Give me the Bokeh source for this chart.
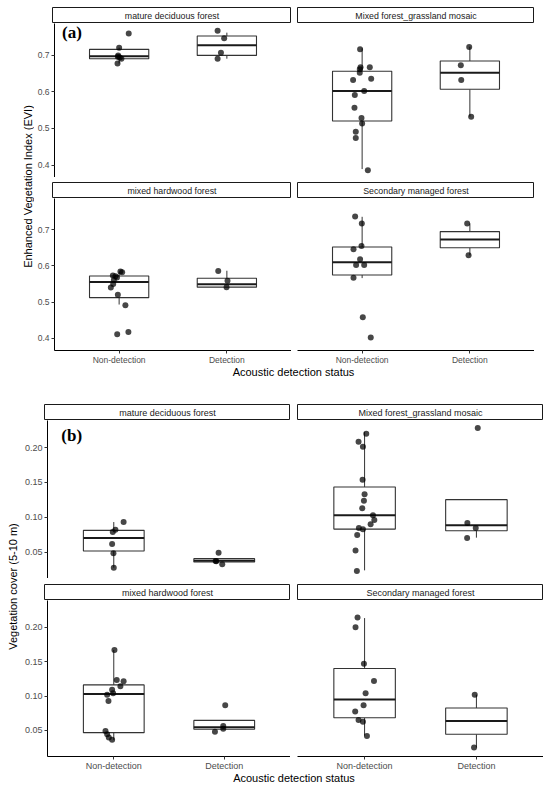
import math
from bokeh.plotting import figure
from bokeh.models import Range1d, FixedTicker, Label, NumeralTickFormatter
from bokeh.layouts import row, column
from bokeh.embed import file_html
from bokeh.resources import INLINE

# ---------------- data ----------------
facets = ["mature deciduous forest", "Mixed forest_grassland mosaic",
          "mixed hardwood forest", "Secondary managed forest"]
status = ["Non-detection", "Detection"]
status_pos = [1, 2]

evi_ticks = [0.4, 0.5, 0.6, 0.7]
cov_ticks = [0.05, 0.10, 0.15, 0.20]

# (a) Enhanced Vegetation Index: values and horizontal jitter (category units)
evi_md_nd = [0.759, 0.720, 0.699, 0.695, 0.693, 0.690, 0.677]
evi_md_nd_jit = [0.089, 0.000, -0.009, -0.012, 0.006, 0.021, -0.015]
evi_md_d = [0.766, 0.746, 0.706, 0.690]
evi_md_d_jit = [-0.086, -0.025, -0.055, -0.086]

evi_mg_nd = [0.716, 0.667, 0.667, 0.661, 0.652, 0.635, 0.632, 0.602, 0.591,
             0.556, 0.528, 0.513, 0.491, 0.474, 0.386]
evi_mg_nd_jit = [-0.019, -0.015, 0.071, -0.022, -0.022, 0.084, -0.084, 0.019,
                 -0.068, -0.071, -0.006, 0.000, -0.059, -0.059, 0.053]
evi_mg_d = [0.722, 0.672, 0.632, 0.532]
evi_mg_d_jit = [-0.006, -0.084, -0.080, 0.012]

evi_mh_nd = [0.584, 0.582, 0.573, 0.571, 0.568, 0.561, 0.550, 0.540, 0.520,
             0.491, 0.411, 0.417]
evi_mh_nd_jit = [0.012, 0.028, -0.058, -0.034, -0.020, -0.049, -0.055, -0.077,
                 -0.012, 0.058, -0.018, 0.086]
evi_mh_d = [0.586, 0.559, 0.541]
evi_mh_d_jit = [-0.080, 0.006, -0.003]

evi_sm_nd = [0.736, 0.717, 0.655, 0.646, 0.618, 0.602, 0.602, 0.567, 0.458, 0.402]
evi_sm_nd_jit = [-0.065, -0.003, -0.006, -0.080, -0.019, -0.056, 0.019, -0.080,
                 0.006, 0.080]
evi_sm_d = [0.717, 0.629]
evi_sm_d_jit = [-0.025, -0.012]

# box statistics, order: md_nd, md_d, mg_nd, mg_d, mh_nd, mh_d, sm_nd, sm_d
evi_lo = [0.677, 0.690, 0.389, 0.532, 0.493, 0.541, 0.566, 0.629]
evi_q1 = [0.690, 0.699, 0.520, 0.6065, 0.512, 0.541, 0.5747, 0.650]
evi_med = [0.697, 0.7264, 0.602, 0.652, 0.5556, 0.5493, 0.610, 0.6728]
evi_q3 = [0.7155, 0.7518, 0.6556, 0.6837, 0.572, 0.5656, 0.6518, 0.6946]
evi_hi = [0.720, 0.761, 0.718, 0.7227, 0.584, 0.5864, 0.7354, 0.717]

# (b) Vegetation cover (5-10 m)
cov_md_nd = [0.0931, 0.0822, 0.0788, 0.0615, 0.0481, 0.0276]
cov_md_nd_jit = [0.089, 0.015, -0.009, -0.015, -0.003, 0.000]
cov_md_d = [0.0490, 0.0371, 0.0368, 0.0323]
cov_md_d_jit = [-0.051, -0.078, -0.072, -0.018]

cov_mg_nd = [0.2200, 0.2086, 0.2014, 0.1540, 0.1330, 0.1238, 0.1128, 0.1027,
             0.0960, 0.0898, 0.0845, 0.0826, 0.0744, 0.0524, 0.0227]
cov_mg_nd_jit = [0.015, -0.054, -0.015, -0.018, 0.000, -0.006, -0.021, 0.075,
                 0.087, 0.054, -0.051, -0.015, -0.066, -0.081, -0.069]
cov_mg_d = [0.2282, 0.0917, 0.0845, 0.0701]
cov_mg_d_jit = [0.012, -0.081, -0.006, -0.083]

cov_mh_nd = [0.1670, 0.1234, 0.1214, 0.1142, 0.1090, 0.1042, 0.1018, 0.0927,
             0.0491, 0.0444, 0.0396, 0.0362]
cov_mh_nd_jit = [0.006, 0.027, 0.089, 0.060, -0.015, -0.006, -0.060, -0.048,
                 -0.075, -0.060, -0.045, -0.015]
cov_mh_d = [0.0865, 0.0563, 0.0525, 0.0481]
cov_mh_d_jit = [0.009, -0.009, -0.009, -0.084]

cov_sm_nd = [0.2144, 0.2000, 0.1468, 0.1220, 0.1042, 0.0865, 0.0774, 0.0650,
             0.0626, 0.0420]
cov_sm_nd_jit = [-0.063, -0.081, -0.006, 0.084, 0.009, -0.009, -0.084, -0.054,
                 -0.015, 0.021]
cov_sm_d = [0.1019, 0.0251]
cov_sm_d_jit = [-0.015, -0.021]

cov_lo = [0.0276, 0.0356, 0.0237, 0.0707, 0.0362, 0.0516, 0.0424, 0.0251]
cov_q1 = [0.0515, 0.0356, 0.0830, 0.0807, 0.0467, 0.0516, 0.0683, 0.0444]
cov_med = [0.0701, 0.0376, 0.1027, 0.0884, 0.1028, 0.0545, 0.0951, 0.0635]
cov_q3 = [0.0812, 0.0405, 0.1434, 0.1253, 0.1162, 0.0645, 0.1400, 0.0826]
cov_hi = [0.0931, 0.0405, 0.2224, 0.1253, 0.1670, 0.0645, 0.2134, 0.1019]

# ---------------- style ----------------
FONT = "Liberation Sans"
BOXC = "#333333"
BOX_W = 0.55


def base_fig(w, h, xr, yr, ml=0, mr=0, mt=0, mb=0, xloc=None, yloc=None):
    f = figure(width=w, height=h, x_range=xr, y_range=yr, output_backend="svg",
               toolbar_location=None, min_border_left=ml, min_border_right=mr,
               min_border_top=mt, min_border_bottom=mb,
               x_axis_location=xloc, y_axis_location=yloc)
    f.xgrid.grid_line_color = None
    f.ygrid.grid_line_color = None
    f.outline_line_color = None
    f.background_fill_color = "white"
    f.border_fill_color = "white"
    return f


def style_axis(ax, fs):
    ax.axis_line_color = "black"
    ax.axis_line_width = 1
    ax.major_tick_line_color = "#333333"
    ax.major_tick_out = 3
    ax.major_tick_in = 0
    ax.minor_tick_line_color = None
    ax.major_label_text_font = FONT
    ax.major_label_text_font_size = fs
    ax.major_label_text_color = "#4d4d4d"
    ax.major_label_standoff = 2


def make_panel(groups, stats, k, yr, fw, fh, ml, mb, show_y, show_x,
               yticks, yfmt, fs):
    f = base_fig(ml + fw, fh + mb, Range1d(0.4, 2.6), Range1d(*yr), ml=ml, mb=mb,
                 xloc="below" if show_x else None, yloc="left" if show_y else None)
    lo, q1, md, q3, hi = [s[2 * k:2 * k + 2] for s in stats]
    xs = status_pos
    xl = [x - BOX_W / 2 for x in xs]
    xr = [x + BOX_W / 2 for x in xs]
    f.segment(x0=xs, y0=lo, x1=xs, y1=q1, line_color=BOXC, line_width=1)
    f.segment(x0=xs, y0=q3, x1=xs, y1=hi, line_color=BOXC, line_width=1)
    f.quad(left=xl, right=xr, bottom=q1, top=q3, fill_color="white",
           line_color=BOXC, line_width=1.1)
    f.segment(x0=xl, y0=md, x1=xr, y1=md, line_color="#1a1a1a", line_width=2)
    for g, (vals, jit) in enumerate(groups):
        f.scatter(x=[xs[g] + j for j in jit], y=vals, size=6,
                  fill_color="black", fill_alpha=0.72, line_color=None)
    if show_x:
        style_axis(f.xaxis[0], fs)
        f.xaxis.major_label_standoff = 1
        f.xaxis.ticker = FixedTicker(ticks=xs)
        f.xaxis.major_label_overrides = {x: s for x, s in zip(xs, status)}
    if show_y:
        style_axis(f.yaxis[0], fs)
        f.yaxis.ticker = FixedTicker(ticks=yticks)
        f.yaxis.formatter = NumeralTickFormatter(format=yfmt)
    return f


def make_strip(text, fw, fh, ml, mt, fs):
    f = base_fig(ml + fw, mt + fh, Range1d(0, 1), Range1d(0, 1), ml=ml, mt=mt)
    f.outline_line_color = "#1a1a1a"
    f.outline_line_width = 1
    f.add_layout(Label(x=0.5, y=0.5, text=text, text_align="center",
                       text_baseline="middle", text_font=FONT,
                       text_font_size=fs, text_color="#1a1a1a"))
    return f


def make_text_fig(text, w, h, xc, yc, angle, fs):
    f = base_fig(w, h, Range1d(0, w), Range1d(0, h))
    f.add_layout(Label(x=xc, y=yc, text=text, angle=angle, text_align="center",
                       text_baseline="middle", text_font=FONT,
                       text_font_size=fs, text_color="black"))
    return f


def build_block(groups_list, stats, yr, yticks, yfmt, ytitle, tag, tag_xy,
                yt_w, yt_xc, yt_yc, ml, gap_x, fw_l, fw_r, fh, top_gap,
                mid_gap, strip_h, mb, xt_h, xt_yc, tick_fs, strip_fs):
    s_tl = make_strip(facets[0], fw_l, strip_h, ml, top_gap, strip_fs)
    s_tr = make_strip(facets[1], fw_r, strip_h, gap_x, top_gap, strip_fs)
    p_tl = make_panel(groups_list[0], stats, 0, yr, fw_l, fh, ml, 0, True, False,
                      yticks, yfmt, tick_fs)
    p_tr = make_panel(groups_list[1], stats, 1, yr, fw_r, fh, gap_x, 0, False, False,
                      yticks, yfmt, tick_fs)
    s_bl = make_strip(facets[2], fw_l, strip_h, ml, mid_gap, strip_fs)
    s_br = make_strip(facets[3], fw_r, strip_h, gap_x, mid_gap, strip_fs)
    p_bl = make_panel(groups_list[2], stats, 2, yr, fw_l, fh, ml, mb, True, True,
                      yticks, yfmt, tick_fs)
    p_br = make_panel(groups_list[3], stats, 3, yr, fw_r, fh, gap_x, mb, False, True,
                      yticks, yfmt, tick_fs)
    p_tl.add_layout(Label(x=tag_xy[0], y=tag_xy[1], text=tag, text_align="left",
                          text_baseline="middle", text_font="Liberation Serif",
                          text_font_style="bold", text_font_size="17px",
                          text_color="black"))
    grid_h = (top_gap + strip_h) + fh + (mid_gap + strip_h) + (fh + mb)
    yt = make_text_fig(ytitle, yt_w, grid_h, yt_xc, grid_h - yt_yc, math.pi / 2, "11px")
    total_w = yt_w + ml + fw_l + gap_x + fw_r
    xc = yt_w + ml + (fw_l + gap_x + fw_r) / 2
    xt = make_text_fig("Acoustic detection status", total_w, xt_h, xc, xt_h - xt_yc,
                       0, "11px")
    panels = column(row(s_tl, s_tr), row(p_tl, p_tr), row(s_bl, s_br), row(p_bl, p_br))
    return column(row(yt, panels), xt)


groups_a = [
    [(evi_md_nd, evi_md_nd_jit), (evi_md_d, evi_md_d_jit)],
    [(evi_mg_nd, evi_mg_nd_jit), (evi_mg_d, evi_mg_d_jit)],
    [(evi_mh_nd, evi_mh_nd_jit), (evi_mh_d, evi_mh_d_jit)],
    [(evi_sm_nd, evi_sm_nd_jit), (evi_sm_d, evi_sm_d_jit)],
]
groups_b = [
    [(cov_md_nd, cov_md_nd_jit), (cov_md_d, cov_md_d_jit)],
    [(cov_mg_nd, cov_mg_nd_jit), (cov_mg_d, cov_mg_d_jit)],
    [(cov_mh_nd, cov_mh_nd_jit), (cov_mh_d, cov_mh_d_jit)],
    [(cov_sm_nd, cov_sm_nd_jit), (cov_sm_d, cov_sm_d_jit)],
]

block_a = build_block(groups_a, [evi_lo, evi_q1, evi_med, evi_q3, evi_hi],
                      (0.366, 0.786), evi_ticks, "0.0",
                      "Enhanced Vegetation Index (EVI)", "(a)", (0.47, 0.7627),
                      yt_w=34, yt_xc=27, yt_yc=186, ml=18, gap_x=6,
                      fw_l=239, fw_r=237, fh=154, top_gap=7, mid_gap=5,
                      strip_h=16, mb=15, xt_h=12, xt_yc=4,
                      tick_fs="8.5px", strip_fs="8.8px")

block_b = build_block(groups_b, [cov_lo, cov_q1, cov_med, cov_q3, cov_hi],
                      (0.012, 0.239), cov_ticks, "0.00",
                      "Vegetation cover (5-10 m)", "(b)", (0.525, 0.2177),
                      yt_w=21, yt_xc=12, yt_yc=207, ml=23, gap_x=7,
                      fw_l=246, fw_r=246, fh=158, top_gap=25, mid_gap=6,
                      strip_h=16, mb=15, xt_h=13, xt_yc=4,
                      tick_fs="9px", strip_fs="9px")

layout = column(block_a, block_b)

with open("out.html", "w") as fh_out:
    fh_out.write(file_html(layout, INLINE))
